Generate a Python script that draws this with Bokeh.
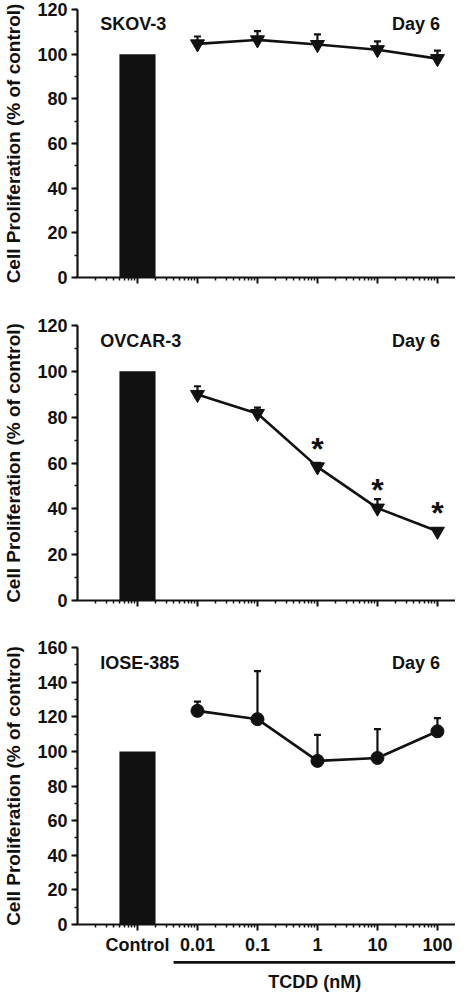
import numpy as np
from bokeh.plotting import figure
from bokeh.models import (Range1d, FixedTicker, SingleIntervalTicker, Whisker,
                          TeeHead, ColumnDataSource, Label)
from bokeh.layouts import column
from bokeh.embed import file_html
from bokeh.resources import INLINE
from bokeh.core.properties import value

# ---------------- data ----------------
doses = [0.01, 0.1, 1, 10, 100]          # TCDD (nM)
control_x = 0.001                        # position of the control category on the log axis
control_value = 100
tick_values = [0.001, 0.01, 0.1, 1, 10, 100]
tick_labels = ["Control", "0.01", "0.1", "1", "10", "100"]

skov3_mean = [104.6, 106.4, 104.3, 102.0, 98.0]
skov3_err = [3.3, 3.9, 4.6, 3.7, 3.6]

ovcar3_mean = [89.9, 81.6, 58.3, 40.3, 30.2]
ovcar3_err = [3.6, 2.6, 1.8, 3.9, 1.2]
ovcar3_sig = [False, False, True, True, True]

iose385_mean = [123.4, 118.6, 94.5, 96.2, 111.6]
iose385_err = [5.3, 27.7, 15.0, 16.7, 7.6]

panel_names = ["SKOV-3", "OVCAR-3", "IOSE-385"]
day_label = "Day 6"
y_label = "Cell Proliferation (% of control)"
x_title = "TCDD (nM)"

# ---------------- style ----------------
FONT = "Liberation Sans"
INK = "#111111"
X_START, X_END = 1e-4, 2e2
LEFT = 72
WIDTH = 455

minor = [m * 10.0 ** k for k in range(-4, 3) for m in range(2, 10)
         if X_START < m * 10.0 ** k < X_END]


def make_panel(name, mean, err, marker, msize, ymax, height, btop, bbot,
               show_labels, sig=None):
    p = figure(width=WIDTH, height=height, x_axis_type="log",
               x_range=Range1d(X_START, X_END), y_range=Range1d(0, ymax),
               output_backend="svg", toolbar_location=None,
               min_border_left=LEFT, min_border_right=0,
               min_border_top=btop, min_border_bottom=bbot)
    p.outline_line_color = None
    p.xgrid.visible = False
    p.ygrid.visible = False

    # control bar
    p.quad(left=[control_x / 2], right=[control_x * 2], bottom=[0],
           top=[control_value], fill_color=INK, line_color=None)

    upper = [m + e for m, e in zip(mean, err)]
    src = ColumnDataSource(dict(x=doses, y=mean, upper=upper))
    w = Whisker(base="x", lower="y", upper="upper", dimension="height",
                source=src, line_width=2.2, line_color=INK,
                lower_head=None,
                upper_head=TeeHead(size=7, line_width=2.2, line_color=INK),
                level="underlay")
    p.add_layout(w)
    p.line("x", "y", source=src, line_width=2.6, line_color=INK)
    p.scatter("x", "y", source=src, marker=marker, size=msize,
              fill_color=INK, line_color=INK)

    if sig is not None:
        sx = [d for d, s in zip(doses, sig) if s]
        sy = [m + 8.0 for m, s in zip(mean, sig) if s]
        p.text(x=sx, y=sy, text=["*"] * len(sx), text_font=value(FONT),
               text_font_style="bold", text_font_size="32px",
               text_align="center", text_baseline="alphabetic",
               text_color=INK)

    p.add_layout(Label(x=2.4e-4, y=0.945 * ymax, text=name,
                       text_font=FONT, text_font_style="bold",
                       text_font_size="18px", text_baseline="middle",
                       text_color=INK))
    p.add_layout(Label(x=110, y=0.945 * ymax, text=day_label,
                       text_font=FONT, text_font_style="bold",
                       text_font_size="18px", text_baseline="middle",
                       text_align="right", text_color=INK))

    # axes
    xa = p.xaxis[0]
    xa.ticker = FixedTicker(ticks=tick_values, minor_ticks=minor)
    if show_labels:
        xa.major_label_overrides = dict(zip(tick_values, tick_labels))
    else:
        xa.major_label_overrides = {t: "" for t in tick_values}
    ya = p.yaxis[0]
    ya.ticker = SingleIntervalTicker(interval=20, num_minor_ticks=2)
    ya.axis_label = y_label
    ya.axis_label_text_font = FONT
    ya.axis_label_text_font_style = "bold"
    ya.axis_label_text_font_size = "19px"
    ya.axis_label_text_color = INK
    ya.axis_label_standoff = 10
    for ax in (xa, ya):
        ax.axis_line_width = 2.2
        ax.axis_line_color = INK
        ax.major_tick_line_width = 2
        ax.major_tick_line_color = INK
        ax.minor_tick_line_width = 1.5
        ax.minor_tick_line_color = INK
        ax.major_tick_in = 0
        ax.major_tick_out = 6
        ax.minor_tick_in = 0
        ax.minor_tick_out = 3
        ax.major_label_text_font = FONT
        ax.major_label_text_font_style = "bold"
        ax.major_label_text_color = INK
        ax.major_label_standoff = 4
    ya.major_label_text_font_size = "18px"
    xa.major_label_text_font_size = "18px"
    return p


p1 = make_panel(panel_names[0], skov3_mean, skov3_err, "inverted_triangle", 14,
                120, 299, 9, 22, False)
p2 = make_panel(panel_names[1], ovcar3_mean, ovcar3_err, "inverted_triangle", 14,
                120, 323, 26, 22, False, sig=ovcar3_sig)
p3 = make_panel(panel_names[2], iose385_mean, iose385_err, "circle", 13,
                160, 335, 25, 30, True)

# TCDD bracket + title
p4 = figure(width=WIDTH, height=35, x_axis_type="log",
            x_range=p3.x_range, y_range=Range1d(0, 1),
            output_backend="svg", toolbar_location=None,
            min_border_left=LEFT, min_border_right=0,
            min_border_top=0, min_border_bottom=0)
p4.axis.visible = False
p4.grid.visible = False
p4.outline_line_color = None
p4.segment(x0=[0.004], x1=[X_END], y0=[0.86], y1=[0.86], line_width=2.6,
           line_color=INK)
p4.text(x=[0.9], y=[0.31], text=[x_title], text_font=value(FONT),
        text_font_style="bold", text_font_size="18px", text_align="center",
        text_baseline="middle", text_color=INK)

layout = column(p1, p2, p3, p4, spacing=0)
open("out.html", "w").write(file_html(layout, INLINE))
